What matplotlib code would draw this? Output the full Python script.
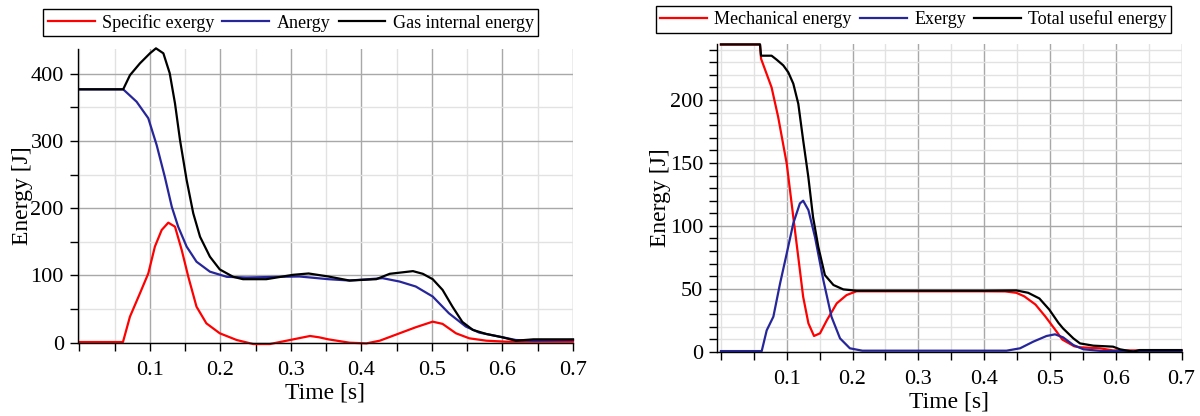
import matplotlib
matplotlib.use("Agg")
import matplotlib.pyplot as plt
from matplotlib.ticker import MultipleLocator, FixedLocator

# ---------------- data: left panel ----------------
t_spec_exergy = [0, 0.0617, 0.0716, 0.0858, 0.0976, 0.107, 0.1166, 0.126, 0.1355, 0.145, 0.1544,
                 0.166, 0.18, 0.199, 0.223, 0.2465, 0.27, 0.2986, 0.327, 0.34, 0.353, 0.383, 0.407,
                 0.426, 0.454, 0.477, 0.501, 0.515, 0.534, 0.553, 0.577, 0.605, 0.7]
v_spec_exergy = [1, 1, 38.7, 73.5, 103, 143, 167.7, 178.6, 172.6, 138, 98,
                 53.6, 28.8, 14, 4, -2, -2, 4, 10, 8, 5, 0, -1,
                 3, 14, 23, 31.3, 28, 14, 6.5, 3, 1.5, 1.5]

t_anergy = [0, 0.062, 0.081, 0.0976, 0.1095, 0.121, 0.131, 0.140, 0.152, 0.166, 0.185, 0.209,
            0.237, 0.28, 0.312, 0.353, 0.383, 0.43, 0.454, 0.477, 0.501, 0.524, 0.548, 0.567,
            0.596, 0.619, 0.644, 0.7]
v_anergy = [377, 377, 358.6, 334, 294, 247, 202, 172.6, 143, 120.5, 105.7, 98,
            97, 98, 98.5, 94.5, 92.5, 96, 91, 83.6, 68.7, 43.8, 24, 15,
            9, 4, 3, 4]

t_gas = [0, 0.062, 0.0716, 0.0858, 0.1, 0.1085, 0.119, 0.128, 0.1355, 0.1426, 0.152, 0.1614,
         0.171, 0.185, 0.199, 0.218, 0.232, 0.265, 0.303, 0.325, 0.353, 0.383, 0.421, 0.44,
         0.473, 0.487, 0.501, 0.515, 0.529, 0.543, 0.558, 0.577, 0.6, 0.619, 0.644, 0.7]
v_gas = [377, 377, 398, 415.7, 430.6, 438, 430.6, 401, 356, 301.6, 242, 192.5,
         157.7, 128, 109, 98, 94.5, 94.5, 101, 103, 98.5, 92.5, 94.5, 102.5,
         106.5, 102.5, 94.5, 78.6, 53.7, 31, 19, 13, 8, 3, 5, 5]

# ---------------- data: right panel ----------------
t_mech = [0, 0.0594, 0.061, 0.077, 0.087, 0.1, 0.11, 0.1176, 0.125, 0.133, 0.1415, 0.1506,
          0.161, 0.176, 0.191, 0.206, 0.25, 0.3, 0.35, 0.4, 0.432, 0.449, 0.461, 0.478,
          0.493, 0.508, 0.519, 0.537, 0.5457, 0.576, 0.596, 0.7]
v_mech = [244, 244, 232.8, 210, 186.5, 149.5, 107, 75, 43.6, 22.5, 12.5, 14.6,
          25, 38.4, 45, 48, 48, 48, 48, 48, 47.9, 46.8, 44, 37.5,
          28, 17.5, 9.6, 4.3, 3.5, 2.7, 1, 1]

t_exergy = [0, 0.062, 0.0696, 0.0797, 0.0898, 0.1, 0.11, 0.12, 0.125, 0.133, 0.143, 0.1556,
            0.168, 0.181, 0.196, 0.215, 0.434, 0.4546, 0.4748, 0.495, 0.5078, 0.52, 0.5356,
            0.551, 0.58, 0.7]
v_exergy = [0.5, 0.5, 17, 27.8, 54, 78, 102, 117.8, 120, 112.5, 91, 57,
            27.8, 10.6, 2.7, 0.8, 0.8, 2.7, 8, 12.5, 13.8, 11.4, 5.3,
            1.9, 0.5, 0.5]

t_total = [0, 0.0594, 0.061, 0.077, 0.0848, 0.0948, 0.1024, 0.11, 0.1176, 0.125, 0.1328, 0.140,
           0.148, 0.158, 0.171, 0.186, 0.206, 0.3, 0.4, 0.449, 0.467, 0.484, 0.499, 0.513,
           0.52, 0.5356, 0.5457, 0.566, 0.596, 0.6065, 0.627, 0.636, 0.7]
v_total = [244.2, 244.2, 235.2, 235.2, 232, 227.5, 222, 213, 197, 168, 139, 107,
           83.3, 60.9, 53, 49.5, 48.5, 48.5, 48.5, 48.7, 46.8, 42.3, 33.5, 22.9,
           18.5, 10.6, 6.6, 4.8, 4, 1.9, 0, 1.3, 1.3]

x_ticks = [0.1, 0.2, 0.3, 0.4, 0.5, 0.6, 0.7]
x_ticklabels = ["0.1", "0.2", "0.3", "0.4", "0.5", "0.6", "0.7"]

labels_left = ["Specific exergy", "Anergy", "Gas internal energy"]
labels_right = ["Mechanical energy", "Exergy", "Total useful energy"]

RED = "#ff0000"
BLUE = "#26269a"
BLACK = "#000000"

plt.rcParams["font.family"] = ["Liberation Serif", "DejaVu Serif"]

W, H = 1200, 416
fig = plt.figure(figsize=(W / 100, H / 100), dpi=100)


def px_axes(x0, x1, ytop, ybot):
    return fig.add_axes([x0 / W, 1 - ybot / H, (x1 - x0) / W, (ybot - ytop) / H])


def style(ax, ymajor, yminor, ylab_x):
    for s in ("top", "right"):
        ax.spines[s].set_visible(False)
    for s in ("left", "bottom"):
        ax.spines[s].set_linewidth(1.0)
        ax.spines[s].set_color("black")
    ax.xaxis.set_major_locator(FixedLocator(x_ticks))
    ax.set_xticklabels(x_ticklabels)
    ax.xaxis.set_minor_locator(MultipleLocator(0.05))
    ax.yaxis.set_major_locator(MultipleLocator(ymajor))
    ax.yaxis.set_minor_locator(MultipleLocator(yminor))
    ax.grid(which="major", color="#a8a8a8", lw=1.0)
    ax.grid(which="minor", color="#e2e2e2", lw=1.0)
    ax.set_axisbelow(True)
    ax.tick_params(which="both", direction="out", length=6, width=1, color="black",
                   labelsize=16)
    ax.tick_params(axis="x", which="both", pad=7)
    ax.tick_params(axis="y", which="both", pad=4)
    ax.set_xlabel("Time [s]", fontsize=17, labelpad=2)
    ax.set_ylabel("Energy [J]", fontsize=17)
    ax.yaxis.set_label_coords(ylab_x, 0.5)


# left panel
axL = px_axes(77.7, 573, 49, 342.7)
l1, = axL.plot(t_spec_exergy, v_spec_exergy, color=RED, lw=1.6, clip_on=False)
l2, = axL.plot(t_anergy, v_anergy, color=BLUE, lw=1.6, clip_on=False)
l3, = axL.plot(t_gas, v_gas, color=BLACK, lw=1.6, clip_on=False)
axL.set_xlim(-0.0025, 0.7)
axL.set_ylim(0, 437)
style(axL, 100, 50, (33 - 77.7) / (573 - 77.7))

# right panel
axR = px_axes(717.3, 1181.5, 44, 351.7)
r1, = axR.plot(t_mech, v_mech, color=RED, lw=1.6, clip_on=False)
r2, = axR.plot(t_exergy, v_exergy, color=BLUE, lw=1.6, clip_on=False)
r3, = axR.plot(t_total, v_total, color=BLACK, lw=1.6, clip_on=False)
axR.set_xlim(-0.0055, 0.7)
axR.set_ylim(0, 244.5)
style(axR, 50, 10, (671 - 717.3) / (1181.5 - 717.3))

leg_kw = dict(ncol=3, loc="upper left", frameon=True, fancybox=False, framealpha=1,
              edgecolor="black", fontsize=13, handlelength=2.6, handletextpad=0.4,
              columnspacing=0.45, borderpad=0.25, borderaxespad=0)
legL = fig.legend([l1, l2, l3], labels_left, bbox_to_anchor=(43.3 / W, 1 - 9.3 / H), **leg_kw)
legR = fig.legend([r1, r2, r3], labels_right, bbox_to_anchor=(655.7 / W, 1 - 5.7 / H), **leg_kw)
for lg in (legL, legR):
    lg.get_frame().set_linewidth(1.0)

fig.savefig("out.png", dpi=100)
